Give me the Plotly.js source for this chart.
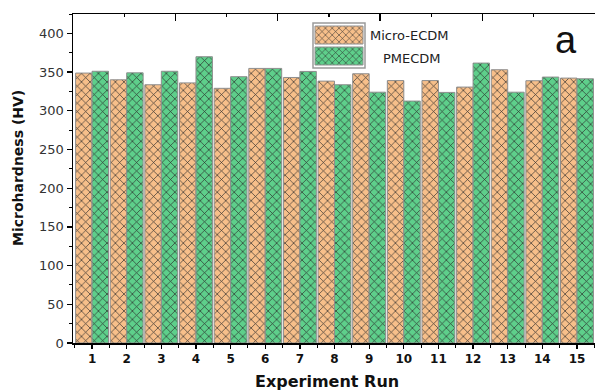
<!DOCTYPE html>
<html><head><meta charset="utf-8">
<script src="https://cdn.plot.ly/plotly-3.0.1.min.js"></script>
<style>html,body{margin:0;padding:0;background:#fff;}#chart{width:595px;height:390px;}</style>
</head><body><div id="chart"></div>
<script>
const runs = [1, 2, 3, 4, 5, 6, 7, 8, 9, 10, 11, 12, 13, 14, 15];
const runLabels = ['1','2','3','4','5','6','7','8','9','10','11','12','13','14','15'];
const microECDM = [348.7, 340, 333.6, 336, 329, 354.7, 343, 338.3, 347.8, 339, 339, 330.6, 353, 338.8, 342.2];
const pmecdm = [351, 349, 351, 369.8, 344, 354.7, 350.8, 333.6, 324, 312.5, 323.7, 361.6, 324, 343.5, 341.3];
const seriesNames = ['Micro-ECDM', 'PMECDM'];
const seriesColors = ['#F7BF8A', '#5ECF8B'];
const yTicks = [0, 50, 100, 150, 200, 250, 300, 350, 400];

const W = 595, H = 390, L = 73, R = 0, T = 14, B = 47;
const pw = W - L - R, ph = H - T - B;
const px = x => (x - L) / pw;
const py = y => (H - B - y) / ph;

const pat = c => ({shape: 'x', bgcolor: c, fgcolor: '#2a2a2a', fgopacity: 0.95, size: 6, solidity: 0.22, fillmode: 'replace'});
const traces = [
  {type: 'bar', x: runs, y: microECDM, name: seriesNames[0],
   marker: {color: seriesColors[0], line: {color: '#8e8e8e', width: 1}, pattern: pat(seriesColors[0])}},
  {type: 'bar', x: runs, y: pmecdm, name: seriesNames[1],
   marker: {color: seriesColors[1], line: {color: '#8e8e8e', width: 1}, pattern: pat(seriesColors[1])}},
  {type: 'scatter', x: [], y: [], xaxis: 'x2', yaxis: 'y', showlegend: false, hoverinfo: 'skip'}
];

const layout = {
  width: W, height: H,
  margin: {l: L, r: R, t: T, b: B},
  paper_bgcolor: '#fff', plot_bgcolor: '#fff',
  barmode: 'group', bargap: 0.05, bargroupgap: 0,
  font: {family: 'DejaVu Sans', color: '#222'},
  xaxis: {
    range: [0.45, 15.52], tickmode: 'array', tickvals: runs, ticktext: runLabels,
    ticks: 'outside', ticklen: 4, tickwidth: 1.3, tickcolor: '#000',
    showline: true, linecolor: '#000', linewidth: 1.5, showgrid: false, zeroline: false,
    tickfont: {family: 'DejaVu Sans', size: 12, color: '#111', weight: 'bold'},
    minor: {tick0: 0.5, dtick: 1, ticks: 'outside', ticklen: 3, tickcolor: '#000', tickwidth: 1}
  },
  xaxis2: {
    overlaying: 'x', side: 'top', anchor: 'y', range: [0, 5.1],
    tickmode: 'array', tickvals: [0, 1, 2, 3, 4], ticks: 'inside', ticklen: 7, tickwidth: 1.3, tickcolor: '#000',
    showticklabels: false, showline: true, linecolor: '#000', linewidth: 1.5, showgrid: false, zeroline: false,
    minor: {tickvals: [0.5, 1.5, 2.5, 3.5, 4.5], ticks: 'inside', ticklen: 3, tickcolor: '#000'}
  },
  yaxis: {
    range: [0, 425], tickmode: 'array', tickvals: yTicks,
    ticks: 'outside', ticklen: 5, tickwidth: 1.3, tickcolor: '#000',
    showline: true, linecolor: '#000', linewidth: 1.5, showgrid: false, zeroline: false,
    tickfont: {family: 'DejaVu Sans', size: 13, color: '#333'},
    minor: {tick0: 0, dtick: 25, ticks: 'outside', ticklen: 3, tickcolor: '#000', tickwidth: 1}
  },
  showlegend: true,
  legend: {x: px(313), y: py(23), xanchor: 'left', yanchor: 'top', bgcolor: 'rgba(0,0,0,0)', borderwidth: 0,
           font: {family: 'DejaVu Sans', size: 13, color: '#222'}, tracegroupgap: 0},
  shapes: [
    {type: 'rect', xref: 'paper', yref: 'paper', x0: px(313), x1: px(365), y0: py(68), y1: py(23),
     line: {color: '#9a9a9a', width: 1.5}, fillcolor: 'rgba(0,0,0,0)'}
  ],
  annotations: [
    {text: 'a', xref: 'paper', yref: 'paper', x: px(566), y: py(40), xanchor: 'center', yanchor: 'middle',
     showarrow: false, font: {family: 'Liberation Sans', size: 38, color: '#111'}},
    {text: 'Experiment Run', xref: 'paper', yref: 'paper', x: px(327), y: py(381), xanchor: 'center', yanchor: 'middle',
     showarrow: false, font: {family: 'DejaVu Sans', size: 16, color: '#111', weight: 'bold'}},
    {text: 'Microhardness (HV)', textangle: -90, xref: 'paper', yref: 'paper', x: px(18), y: py(168), xanchor: 'center', yanchor: 'middle',
     showarrow: false, font: {family: 'DejaVu Sans', size: 14, color: '#111', weight: 'bold'}}
  ]
};

Plotly.newPlot('chart', traces, layout, {displayModeBar: false, staticPlot: true}).then(gd => {
  gd.querySelectorAll('.legend, .legend *').forEach(el => { if (el.hasAttribute('clip-path')) el.removeAttribute('clip-path'); });
  const cfg = [{cx: 339, cy: 35, tx: 370, ty: 35}, {cx: 339, cy: 56, tx: 383, ty: 58}];
  const items = gd.querySelectorAll('.legend .traces');
  items.forEach((g, i) => {
    const c = cfg[i]; if (!c) return;
    const P = g.parentNode.getScreenCTM();
    g.setAttribute('transform', `translate(${c.cx - P.e},${c.cy - P.f})`);
    g.querySelectorAll('.legendpoints path').forEach(p => {
      const Q = p.parentNode.getScreenCTM();
      p.setAttribute('d', 'M24,9H-24V-9H24Z');
      p.setAttribute('transform', `translate(${c.cx - Q.e},${c.cy - Q.f})`);
    });
    const t = g.querySelector('text.legendtext');
    if (t) {
      const Q = t.parentNode.getScreenCTM();
      t.setAttribute('x', c.tx - Q.e);
      t.setAttribute('transform', `translate(0,${c.ty - c.cy})`);
    }
  });
});
</script>
</body></html>
